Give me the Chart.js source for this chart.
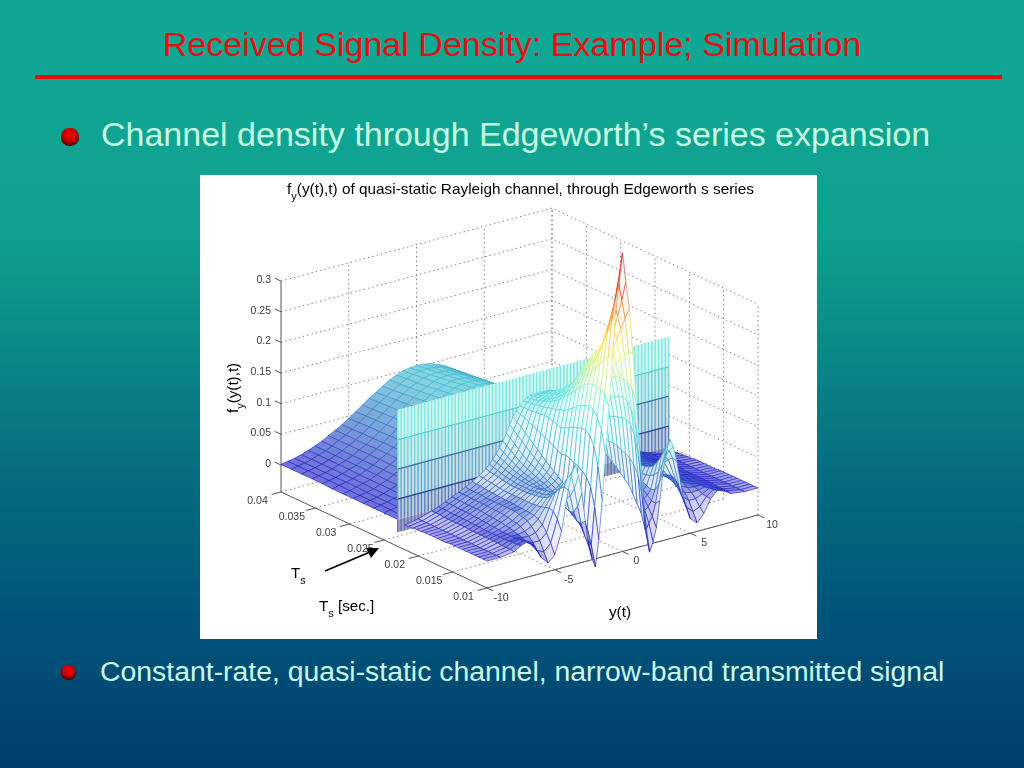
<!DOCTYPE html>
<html>
<head>
<meta charset="utf-8">
<title>Received Signal Density</title>
<script src="https://cdn.jsdelivr.net/npm/chart.js@4"></script>
<style>
  html, body { margin: 0; padding: 0; }
  body {
    width: 1024px; height: 768px; overflow: hidden; position: relative;
    background: linear-gradient(#10a894 0%, #0fa18f 30%, #0b8a88 45%, #066f80 60%, #01557a 80%, #003f6c 100%);
    font-family: "Liberation Sans", sans-serif;
  }
  .txt { position: absolute; white-space: nowrap; }
  #title { left: 0; width: 1024px; top: 24px; line-height: 40px; text-align: center; font-size: 34.07px; color: #e21212; }
  #rule { position: absolute; left: 35px; top: 75px; width: 967px; height: 4px; background: #e80c0c; }
  #b1 { left: 101px; top: 114px; line-height: 40px; font-size: 34px; color: #c4fbe0; }
  #b2 { left: 100px; top: 653px; line-height: 36px; font-size: 28.4px; color: #c8f8ea; }
  .ball { position: absolute; border-radius: 46%; background: radial-gradient(circle at 50% 38%, #f00404 0, #c00 42%, #400 78%, #000 100%); }
  #chartBox { position: absolute; left: 200px; top: 175px; width: 617px; height: 464px; background: #fff; }
</style>
</head>
<body>
<div id="title" class="txt">Received Signal Density: Example; Simulation</div>
<div id="rule"></div>
<div class="ball" style="left:61px;top:128px;width:18px;height:18px"></div>
<div id="b1" class="txt">Channel density through Edgeworth’s series expansion</div>
<div id="chartBox"><canvas id="myChart" width="617" height="464"></canvas></div>
<div class="ball" style="left:61px;top:665px;width:15px;height:15px"></div>
<div id="b2" class="txt">Constant-rate, quasi-static channel, narrow-band transmitted signal</div>
<script>
// axis ticks
const yTicks = [-10, -5, 0, 5, 10]
const tsTicks = [0.04, 0.035, 0.03, 0.025, 0.02, 0.015, 0.01]
const tsTickLabels = ["0.04", "0.035", "0.03", "0.025", "0.02", "0.015", "0.01"]
const fTicks = [0, 0.05, 0.1, 0.15, 0.2, 0.25, 0.3]
const fTickLabels = ["0", "0.05", "0.1", "0.15", "0.2", "0.25", "0.3"]
const fFloor = -0.044

// rows behind the wall: y(t) columns, Ts of each row, density in 1/1000
const yBack = [-10, -9.5, -9, -8.5, -8, -7.5, -7, -6.5, -6, -5.5, -5, -4.5, -4, -3.5, -3, -2.5, -2, -1.5, -1, -0.5, 0, 0.5, 1, 1.5, 2, 2.5, 3, 3.5, 4, 4.5, 5, 5.5, 6, 6.5, 7, 7.5, 8, 8.5, 9, 9.5, 10]
const tsBack = [0.04, 0.0385, 0.037, 0.0355, 0.034, 0.0325, 0.031, 0.0295, 0.028, 0.0265, 0.025, 0.0231]
const densityBack = [
  [1,3,5,8,12,16,21,27,33,39,46,54,62,70,77,84,91,96,100,102,103,102,100,96,91,84,77,70,62,54,46,39,33,27,21,16,12,8,5,3,1],
  [1,3,5,8,12,16,21,27,33,39,47,55,63,71,78,85,92,98,102,104,105,104,102,98,92,85,78,71,63,55,47,39,33,27,21,16,12,8,5,3,1],
  [1,3,5,8,12,16,21,27,33,40,48,56,64,72,80,87,94,99,104,106,107,106,104,99,94,87,80,72,64,56,48,40,33,27,21,16,12,8,5,3,1],
  [1,3,5,8,12,16,21,27,33,40,48,56,65,73,81,89,96,101,106,109,110,109,106,101,96,89,81,73,65,56,48,40,33,27,21,16,12,8,5,3,1],
  [1,3,5,8,12,16,21,27,34,41,49,57,66,75,83,91,98,104,108,111,112,111,108,104,98,91,83,75,66,57,49,41,34,27,21,16,12,8,5,3,1],
  [0,3,5,8,11,16,21,27,34,41,49,58,67,76,84,93,100,106,111,114,115,114,111,106,100,93,84,76,67,58,49,41,34,27,21,16,11,8,5,3,0],
  [0,2,5,8,11,16,21,27,34,42,50,59,68,77,86,95,102,109,114,117,118,117,114,109,102,95,86,77,68,59,50,42,34,27,21,16,11,8,5,2,0],
  [0,2,4,7,11,15,21,27,34,42,50,59,69,78,87,97,104,111,117,120,121,120,117,111,104,97,87,78,69,59,50,42,34,27,21,15,11,7,4,2,0],
  [0,2,4,7,11,15,21,27,34,42,51,60,70,79,89,99,107,114,120,124,125,124,120,114,107,99,89,79,70,60,51,42,34,27,21,15,11,7,4,2,0],
  [0,2,4,7,10,15,20,27,34,42,51,60,70,80,90,101,110,118,124,128,130,128,124,118,110,101,90,80,70,60,51,42,34,27,20,15,10,7,4,2,0],
  [0,2,4,7,10,15,20,27,34,42,51,60,71,81,92,103,113,122,129,133,135,133,129,122,113,103,92,81,71,60,51,42,34,27,20,15,10,7,4,2,0],
  [0,1,3,6,10,14,20,26,33,41,50,60,71,82,93,105,116,126,134,139,141,139,134,126,116,105,93,82,71,60,50,41,33,26,20,14,10,6,3,1,0]
]

// the jump at Ts = 0.023, a flat wall
const tsWall = 0.023
const wallLevels = [-21, 0, 33, 82, 130, 179]

// rows in front of the wall: finer columns around the peak
const yFront = [-10, -9, -8, -7.5, -7, -6.5, -6, -5.5, -5, -4.5, -4, -3.75, -3.5, -3.25, -3, -2.75, -2.5, -2.25, -2, -1.75, -1.5, -1.25, -1, -0.75, -0.5, -0.25, 0, 0.25, 0.5, 0.75, 1, 1.25, 1.5, 1.75, 2, 2.25, 2.5, 2.75, 3, 3.25, 3.5, 3.75, 4, 4.5, 5, 5.5, 6, 6.5, 7, 7.5, 8, 9, 10]
const tsFront = [0.022, 0.0214, 0.0208, 0.0202, 0.0196, 0.019, 0.0184, 0.0178, 0.0172, 0.0166, 0.016, 0.0154, 0.0148, 0.0142, 0.0136, 0.013, 0.0124, 0.0118, 0.0112, 0.0106, 0.01]
const densityFront = [
  [-4,0,7,11,16,21,26,31,37,44,52,58,64,72,80,90,101,113,125,133,140,146,150,152,153,153,153,153,153,152,150,146,140,133,125,113,101,90,80,72,64,58,52,44,37,31,26,21,16,11,7,0,-4],
  [-3,0,7,11,16,21,26,30,36,43,50,56,62,68,76,85,96,108,120,130,140,147,152,154,155,155,156,155,155,154,152,147,140,130,120,108,96,85,76,68,62,56,50,43,36,30,26,21,16,11,7,0,-3],
  [-3,0,7,11,16,21,26,30,36,42,49,54,60,66,72,80,90,102,114,128,140,148,153,155,157,159,160,159,157,155,153,148,140,128,114,102,90,80,72,66,60,54,49,42,36,30,26,21,16,11,7,0,-3],
  [-2,0,6,10,15,20,25,30,35,41,48,52,57,62,68,75,84,96,108,124,141,149,155,157,159,162,164,162,159,157,155,149,141,124,108,96,84,75,68,62,57,52,48,41,35,30,25,20,15,10,6,0,-2],
  [-2,0,6,10,15,20,25,30,34,40,46,50,55,59,64,70,78,90,102,122,141,151,157,159,162,165,168,165,162,159,157,151,141,122,102,90,78,70,64,59,55,50,46,40,34,30,25,20,15,10,6,0,-2],
  [-1,0,6,10,15,20,25,29,34,39,45,49,53,57,61,66,74,84,96,118,142,152,160,163,167,170,174,170,167,163,160,152,142,118,96,84,74,66,61,57,53,49,45,39,34,29,25,20,15,10,6,0,-1],
  [-1,0,6,10,15,20,25,29,33,38,44,48,52,55,58,63,70,79,90,115,143,154,163,167,172,176,180,176,172,167,163,154,143,115,90,79,70,63,58,55,52,48,44,38,33,29,25,20,15,10,6,0,-1],
  [-1,0,6,10,14,20,25,29,33,38,44,47,51,53,56,60,66,74,84,111,142,156,167,172,178,183,187,183,178,172,167,156,142,111,84,74,66,60,56,53,51,47,44,38,33,29,25,20,14,10,6,0,-1],
  [-1,0,6,9,14,19,24,29,32,38,44,47,50,52,54,57,62,69,78,108,140,157,172,178,185,190,195,190,185,178,172,157,140,108,78,69,62,57,54,52,50,47,44,38,32,29,24,19,14,9,6,0,-1],
  [-1,0,5,9,13,18,24,29,32,38,44,47,50,51,52,54,58,64,72,104,138,160,179,187,195,201,207,201,195,187,179,160,138,104,72,64,58,54,52,51,50,47,44,38,32,29,24,18,13,9,5,0,-1],
  [-1,0,5,9,13,18,24,29,32,38,44,47,50,50,50,52,55,60,67,100,135,162,185,195,205,212,220,212,205,195,185,162,135,100,67,60,55,52,50,50,50,47,44,38,32,29,24,18,13,9,5,0,-1],
  [0,0,5,8,12,17,23,29,31,38,45,48,51,49,48,49,52,56,61,97,138,167,192,204,215,224,232,224,215,204,192,167,138,97,61,56,52,49,48,49,51,48,45,38,31,29,23,17,12,8,5,0,0],
  [0,0,5,8,12,17,22,29,31,38,46,49,52,48,46,46,48,52,56,98,142,172,200,212,225,234,243,234,225,212,200,172,142,98,56,52,48,46,46,48,52,49,46,38,31,29,22,17,12,8,5,0,0],
  [0,0,5,8,11,15,20,27,30,38,47,50,54,46,42,41,42,46,50,96,146,178,208,222,235,245,256,245,235,222,208,178,146,96,50,46,42,41,42,46,54,50,47,38,30,27,20,15,11,8,5,0,0],
  [0,0,5,8,10,14,19,25,30,39,49,52,55,45,38,37,37,40,43,92,148,183,215,230,245,255,267,255,245,230,215,183,148,92,43,40,37,37,38,45,55,52,49,39,30,25,19,14,10,8,5,0,0],
  [0,0,5,8,10,12,17,23,29,40,52,56,58,46,36,33,33,35,37,90,150,186,220,238,255,266,277,266,255,238,220,186,150,90,37,35,33,33,36,46,58,56,52,40,29,23,17,12,10,8,5,0,0],
  [0,0,5,8,10,10,12,17,26,42,58,62,62,48,33,28,26,25,25,85,150,188,222,247,270,284,300,284,270,247,222,188,150,85,25,25,26,28,33,48,62,62,58,42,26,17,12,10,10,8,5,0,0],
  [0,0,4,8,10,8,7,10,20,44,68,72,72,52,30,22,18,14,12,78,145,186,222,257,290,307,325,307,290,257,222,186,145,78,12,14,18,22,30,52,72,72,68,44,20,10,7,8,10,8,4,0,0],
  [0,0,4,9,11,5,0,0,10,42,76,82,85,60,32,16,8,3,0,65,130,176,220,267,310,332,355,332,310,267,220,176,130,65,0,3,8,16,32,60,85,82,76,42,10,0,0,5,11,9,4,0,0],
  [0,0,4,9,12,4,-10,-15,-4,32,82,95,100,75,45,15,-5,-15,-25,35,100,158,215,275,330,362,395,362,330,275,215,158,100,35,-25,-15,-5,15,45,75,100,95,82,32,-4,-15,-10,4,12,9,4,0,0],
  [0,0,3,10,14,3,-18,-30,-20,15,80,105,118,100,70,22,-20,-42,-57,-15,47,122,197,275,350,395,443,395,350,275,197,122,47,-15,-57,-42,-20,22,70,100,118,105,80,15,-20,-30,-18,3,14,10,3,0,0]
]

// colours along the density
const colourLevels = [-60, 0, 50, 100, 150, 180, 230, 280, 340, 400, 443]
const colourStops = [[10, 10, 130], [25, 25, 195], [40, 105, 195], [55, 180, 205], [70, 210, 215], [90, 230, 225], [185, 240, 160], [248, 238, 90], [240, 150, 40], [200, 40, 25], [110, 20, 30]]
const wallBandFills = ["#9aa2c6", "#bccce4", "#c4e2ee", "#c8f0f0", "#d2f8f2"]
const wallBandLines = ["#6a74a8", "#5f7fb4", "#6ca9c4", "#78d0d4", "#7ee6e0"]
const wallLineColours = ["#2a3c98", "#3a6ea6", "#3ed0d8"]

// projection of the 3d box on the picture
function project(y, ts, f) {
  const u = (y + 10) / 20
  const v = (0.04 - ts) / 0.03
  return { x: 281 + 271 * u + 206 * v, y: 465 - 73 * u + 96 * v - 613 * f }
}

function colourOf(level) {
  let i = 0
  while (i < colourLevels.length - 2 && level > colourLevels[i + 1]) i++
  const t = Math.min(1, Math.max(0, (level - colourLevels[i]) / (colourLevels[i + 1] - colourLevels[i])))
  return colourStops[i].map((c, k) => c + (colourStops[i + 1][k] - c) * t)
}
const css = (c) => "rgb(" + c.map(Math.round).join(",") + ")"

function polyLine(points, color, dash, width) {
  return { data: points, showLine: true, pointRadius: 0, borderColor: color, borderWidth: width || 1, borderDash: dash || [], fill: false, tension: 0 }
}

// one cell of the surface, white or tinted inside so it hides what is behind
function quad(ys, tsA, tsB, rowA, rowB, j, tintOf) {
  const corners = [
    project(ys[j], tsA, rowA[j] / 1000),
    project(ys[j + 1], tsA, rowA[j + 1] / 1000),
    project(ys[j + 1], tsB, rowB[j + 1] / 1000),
    project(ys[j], tsB, rowB[j] / 1000)
  ]
  const mean = (rowA[j] + rowA[j + 1] + rowB[j] + rowB[j + 1]) / 4
  const c = colourOf(mean)
  const area = Math.abs((corners[2].x - corners[0].x) * (corners[3].y - corners[1].y) - (corners[3].x - corners[1].x) * (corners[2].y - corners[0].y)) / 2
  const tint = tintOf(area, mean)
  const bg = c.map((k) => 255 + (k - 255) * tint)
  return { data: corners.concat([corners[0]]), showLine: true, pointRadius: 0, borderColor: css(c), borderWidth: 0.6, backgroundColor: css(bg), fill: "shape", tension: 0 }
}

function addSurface(list, ys, tsList, rows, tintOf) {
  for (let i = 0; i < rows.length - 1; i++) {
    for (let j = ys.length - 2; j >= 0; j--) {
      list.push(quad(ys, tsList[i], tsList[i + 1], rows[i], rows[i + 1], j, tintOf))
    }
  }
}

const grid = "#808080"
const dots = [1.5, 3]
const back = []

// grid on the floor and on the two walls
yTicks.forEach((y) => {
  if (y > -10) back.push(polyLine([project(y, 0.04, fFloor), project(y, 0.04, 0.3)], grid, dots))
  if (y > -10 && y < 10) back.push(polyLine([project(y, 0.04, fFloor), project(y, 0.01, fFloor)], grid, dots))
})
tsTicks.forEach((ts) => {
  back.push(polyLine([project(-10, ts, fFloor), project(10, ts, fFloor)], grid, dots))
  back.push(polyLine([project(10, ts, fFloor), project(10, ts, 0.3)], grid, dots))
})
fTicks.forEach((f) => {
  back.push(polyLine([project(-10, 0.04, f), project(10, 0.04, f), project(10, 0.01, f)], grid, dots))
})

// axes with tick marks
const axisColour = "#555"
back.push(polyLine([project(-10, 0.04, fFloor), project(-10, 0.04, 0.3)], axisColour))
back.push(polyLine([project(-10, 0.04, fFloor), project(-10, 0.01, fFloor)], axisColour))
back.push(polyLine([project(-10, 0.01, fFloor), project(10, 0.01, fFloor)], axisColour))
fTicks.forEach((f) => back.push(polyLine([project(-10, 0.04, f), project(-10, 0.0409, f)], axisColour)))
tsTicks.forEach((ts) => back.push(polyLine([project(-10, ts, fFloor), project(-10.7, ts, fFloor)], axisColour)))
yTicks.forEach((y) => back.push(polyLine([project(y, 0.01, fFloor), project(y, 0.0091, fFloor)], axisColour)))

addSurface(back, yBack, tsBack, densityBack, () => 0.62)

// the wall: tinted bands, then its vertical lines, then the level lines
for (let b = 0; b < wallLevels.length - 1; b++) {
  const lo = wallLevels[b] / 1000
  const hi = wallLevels[b + 1] / 1000
  const band = [project(-10, tsWall, lo), project(10, tsWall, lo), project(10, tsWall, hi), project(-10, tsWall, hi), project(-10, tsWall, lo)]
  back.push({ data: band, showLine: true, pointRadius: 0, borderWidth: 0, backgroundColor: wallBandFills[b], fill: "shape", tension: 0 })
  for (let c = -10; c <= 10; c += 0.25) {
    back.push(polyLine([project(c, tsWall, lo), project(c, tsWall, hi)], wallBandLines[b], [], 1.4))
  }
}
wallLevels.slice(2, 5).forEach((level, k) => {
  back.push(polyLine([project(-10, tsWall, level / 1000), project(10, tsWall, level / 1000)], wallLineColours[k], [], 1.2))
})

addSurface(back, yFront, tsFront, densityFront, (area, mean) => Math.min(0.75, 16 / area) * (mean > 35 ? 0.55 : 1))

// chart.js paints the first dataset last
const datasets = back.reverse()

function subText(ctx, parts, x, y, size) {
  parts.forEach((p) => {
    const s = p[1] ? size * 0.72 : size
    ctx.font = s + 'px "Liberation Sans"'
    ctx.fillText(p[0], x, y + (p[1] ? size * 0.38 : 0))
    x += ctx.measureText(p[0]).width
  })
}

const labelsPlugin = {
  id: "labels3d",
  afterDraw(chart) {
    const { ctx, scales } = chart
    const px = (x) => scales.x.getPixelForValue(x)
    const py = (y) => scales.y.getPixelForValue(y)
    ctx.save()
    ctx.fillStyle = "#3c3c3c"
    ctx.textBaseline = "middle"
    ctx.font = '10.5px "Liberation Sans"'
    ctx.textAlign = "right"
    fTicks.forEach((f, i) => {
      const p = project(-10, 0.04, f)
      ctx.fillText(fTickLabels[i], px(p.x - 10), py(p.y - 1))
    })
    ctx.textAlign = "center"
    tsTicks.forEach((ts, i) => {
      const p = project(-10, ts, fFloor)
      ctx.fillText(tsTickLabels[i], px(p.x - 23.5), py(p.y + 9.5))
    })
    yTicks.forEach((y) => {
      const p = project(y, 0.01, fFloor)
      ctx.fillText(String(y), px(p.x + 14), py(p.y + 10))
    })

    ctx.fillStyle = "#000"
    ctx.textAlign = "left"
    ctx.textBaseline = "alphabetic"
    subText(ctx, [["f"], ["y", 1], ["(y(t),t) of quasi-static Rayleigh channel, through Edgeworth s series"]], px(287), py(194), 15.35)
    subText(ctx, [["T"], ["s", 1]], px(291), py(578), 15)
    subText(ctx, [["T"], ["s", 1], [" [sec.]"]], px(319), py(611), 15.2)
    ctx.textAlign = "center"
    ctx.font = '15.4px "Liberation Sans"'
    ctx.fillText("y(t)", px(620), py(617))

    ctx.save()
    ctx.translate(px(238), py(413))
    ctx.rotate(-Math.PI / 2)
    ctx.textAlign = "left"
    subText(ctx, [["f"], ["y", 1], ["(y(t),t)"]], 0, 0, 15.2)
    ctx.restore()

    // Ts arrow
    ctx.strokeStyle = "#000"
    ctx.lineWidth = 1.6
    ctx.beginPath()
    ctx.moveTo(px(325), py(571))
    ctx.lineTo(px(370), py(552))
    ctx.stroke()
    ctx.fillStyle = "#000"
    ctx.beginPath()
    ctx.moveTo(px(379), py(548))
    ctx.lineTo(px(366), py(548))
    ctx.lineTo(px(371), py(558))
    ctx.closePath()
    ctx.fill()
    ctx.restore()
  }
}

new Chart(document.getElementById("myChart"), {
  type: "scatter",
  data: { datasets: datasets },
  options: {
    responsive: false,
    animation: false,
    events: [],
    layout: { padding: 0 },
    scales: {
      x: { type: "linear", min: 200, max: 817, display: false },
      y: { type: "linear", min: 175, max: 639, reverse: true, display: false }
    },
    plugins: { legend: { display: false }, tooltip: { enabled: false } }
  },
  plugins: [labelsPlugin]
})
</script>
</body>
</html>
